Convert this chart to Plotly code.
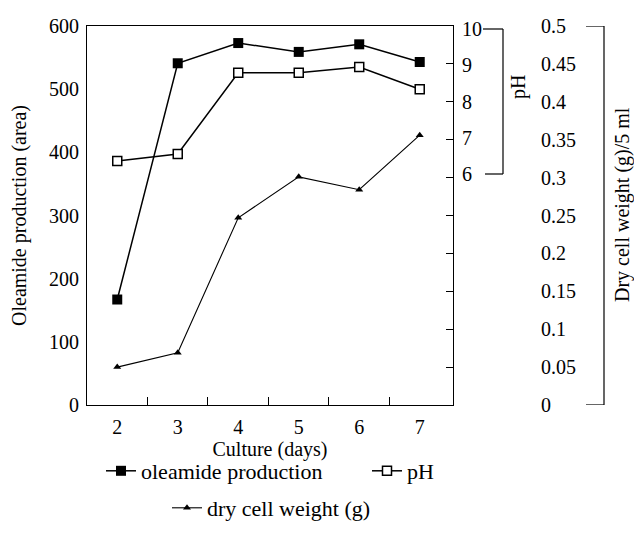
import plotly.graph_objects as go

days = [2, 3, 4, 5, 6, 7]
oleamide = [167, 541, 573, 559, 571, 543]
ph = [6.36, 6.55, 8.79, 8.79, 8.95, 8.34]
dry_weight = [0.050, 0.069, 0.247, 0.301, 0.284, 0.356]

left_ticks = [0, 100, 200, 300, 400, 500, 600]
ph_ticks = [6, 7, 8, 9, 10]
dw_ticks = [0, 0.05, 0.1, 0.15, 0.2, 0.25, 0.3, 0.35, 0.4, 0.45, 0.5]
dw_text = ["0", "0.05", "0.1", "0.15", "0.2", "0.25", "0.3", "0.35", "0.4", "0.45", "0.5"]
between_ticks = [2.5, 3.5, 4.5, 5.5, 6.5]
right_border_ticks = [60, 120, 180, 240, 300, 360, 420, 480, 540]

FONT = "Liberation Serif"
OFF = 8                      # page body margin around the figure
W, H = 642 - 2 * OFF, 542 - 2 * OFF
PLOT_L, PLOT_R, PLOT_T, PLOT_B = 87, 453, 26, 405   # page pixels
ML, MT = PLOT_L - OFF, PLOT_T - OFF
MR = 2
MB = H - (PLOT_B - OFF)
PW = W - ML - MR
PHT = H - MT - MB


def px_x(p):
    return (p - PLOT_L) / PW


def px_y(p):
    return (PLOT_B - p) / PHT


# pH axis overlays the main plot; 10 sits near the top, 6 part way down
PH_TOP_PX, PH_BOT_PX = 29, 174
ph_per_px = (10 - 6) / (PH_BOT_PX - PH_TOP_PX)
ph_hi = 10 + (PH_TOP_PX - PLOT_T) * ph_per_px
ph_lo = ph_hi - PHT * ph_per_px

fig = go.Figure()
fig.add_trace(go.Scatter(
    x=days, y=oleamide, name="oleamide production", mode="lines+markers",
    line=dict(color="black", width=1.5),
    marker=dict(symbol="square", size=10, color="black"),
    yaxis="y", legend="legend", cliponaxis=False))
fig.add_trace(go.Scatter(
    x=days, y=ph, name="pH", mode="lines+markers",
    line=dict(color="black", width=1.5),
    marker=dict(symbol="square", size=9, color="white", line=dict(color="black", width=1.5)),
    yaxis="y2", legend="legend", cliponaxis=False))
fig.add_trace(go.Scatter(
    x=days, y=dry_weight, name="dry cell weight (g)", mode="lines+markers",
    line=dict(color="black", width=1.1),
    marker=dict(symbol="triangle-up", size=7, color="black"),
    yaxis="y3", legend="legend2", cliponaxis=False))
# empty trace so the right-border tick axis is drawn
fig.add_trace(go.Scatter(x=[None], y=[None], yaxis="y4", showlegend=False,
                         hoverinfo="skip", mode="markers"))

tf = dict(family=FONT, size=20, color="black")
lw = dict(color="black", width=1.2)

shapes = [
    # pH bracket
    dict(type="line", xref="paper", yref="y2", x0=px_x(503), x1=px_x(503), y0=6, y1=10, line=lw),
    dict(type="line", xref="paper", yref="y2", x0=px_x(483), x1=px_x(503), y0=10, y1=10, line=lw),
    dict(type="line", xref="paper", yref="y2", x0=px_x(485), x1=px_x(503), y0=6, y1=6, line=lw),
    # dry cell weight bracket
    dict(type="line", xref="paper", yref="y3", x0=px_x(604), x1=px_x(604), y0=0, y1=0.5, line=lw),
    dict(type="line", xref="paper", yref="y3", x0=px_x(586), x1=px_x(604), y0=0.5, y1=0.5, line=lw),
    dict(type="line", xref="paper", yref="y3", x0=px_x(586), x1=px_x(604), y0=0, y1=0, line=lw),
]

fig.update_layout(
    width=W, height=H,
    margin=dict(l=ML, r=MR, t=MT, b=MB, autoexpand=False),
    paper_bgcolor="white", plot_bgcolor="white",
    font=dict(family=FONT, size=20, color="black"),
    xaxis=dict(
        domain=[0, px_x(PLOT_R)], range=[1.5, 7.55], automargin=False,
        tickmode="array", tickvals=days, ticks="",
        showline=True, linecolor="black", linewidth=1.2, mirror=True,
        showgrid=False, zeroline=False, tickfont=tf, ticklabelstandoff=4,
        minor=dict(tickmode="array", tickvals=between_ticks, ticks="inside",
                   ticklen=8, tickcolor="black", tickwidth=1, showgrid=False),
        title=dict(text="Culture (days)", font=tf, standoff=3),
    ),
    yaxis=dict(
        range=[0, 600], tickmode="array", tickvals=left_ticks, ticks="", automargin=False,
        showline=True, linecolor="black", linewidth=1.2,
        showgrid=False, zeroline=False, tickfont=tf, ticklabelstandoff=3,
        title=dict(text="Oleamide production (area)", font=tf, standoff=16),
    ),
    yaxis4=dict(
        overlaying="y", anchor="x", side="right", range=[0, 600], automargin=False,
        tickmode="array", tickvals=right_border_ticks, ticks="inside", ticklen=7,
        tickcolor="black", showticklabels=False, showline=True,
        linecolor="black", linewidth=1.2, showgrid=False, zeroline=False,
    ),
    yaxis2=dict(
        overlaying="y", anchor="free", position=px_x(461), side="right", automargin=False,
        range=[ph_lo, ph_hi], tickmode="array", tickvals=ph_ticks, ticks="",
        showline=False, showgrid=False, zeroline=False, tickfont=tf,
    ),
    yaxis3=dict(
        overlaying="y", anchor="free", position=px_x(540), side="right", automargin=False,
        range=[0, 0.5], tickmode="array", tickvals=dw_ticks, ticktext=dw_text,
        ticks="", showline=False, showgrid=False, zeroline=False, tickfont=tf,
    ),
    legend=dict(
        orientation="h", x=px_x(101), y=px_y(450), xanchor="left", yanchor="top",
        font=dict(family=FONT, size=22, color="black"), bgcolor="rgba(0,0,0,0)",
        entrywidth=221, entrywidthmode="pixels",
    ),
    legend2=dict(
        orientation="h", x=px_x(167), y=px_y(487), xanchor="left", yanchor="top",
        font=dict(family=FONT, size=22, color="black"), bgcolor="rgba(0,0,0,0)",
    ),
    shapes=shapes,
    annotations=[
        dict(text="pH", x=px_x(518), y=px_y(87), xref="paper", yref="paper",
             xanchor="center", yanchor="middle",
             showarrow=False, textangle=-90, font=tf),
        dict(text="Dry cell weight (g)/5 ml", x=px_x(622), y=px_y(205),
             xref="paper", yref="paper", xanchor="center", yanchor="middle",
             showarrow=False, textangle=-90, font=tf),
    ],
)

fig.write_html("out.html")
